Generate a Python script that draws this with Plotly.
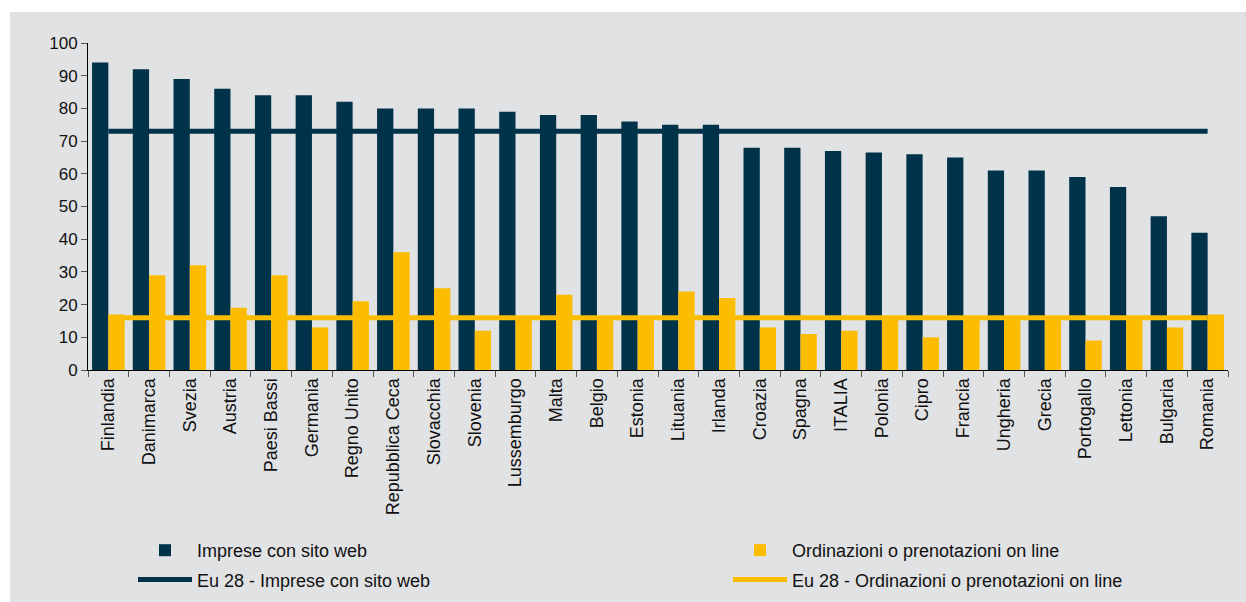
import plotly.graph_objects as go

paesi = ["Finlandia", "Danimarca", "Svezia", "Austria", "Paesi Bassi", "Germania",
         "Regno Unito", "Repubblica Ceca", "Slovacchia", "Slovenia", "Lussemburgo",
         "Malta", "Belgio", "Estonia", "Lituania", "Irlanda", "Croazia", "Spagna",
         "ITALIA", "Polonia", "Cipro", "Francia", "Ungheria", "Grecia", "Portogallo",
         "Lettonia", "Bulgaria", "Romania"]

imprese_sito_web = [94, 92, 89, 86, 84, 84, 82, 80, 80, 80, 79, 78, 78, 76, 75, 75,
                    68, 68, 67, 66.5, 66, 65, 61, 61, 59, 56, 47, 42]

ordinazioni_online = [17, 29, 32, 19, 29, 13, 21, 36, 25, 12, 16, 23, 16, 16, 24, 22,
                      13, 11, 12, 16, 10, 16, 16, 16, 9, 16, 13, 17]

eu28_sito_web = 73
eu28_ordinazioni = 16

y_ticks = [0, 10, 20, 30, 40, 50, 60, 70, 80, 90, 100]

DARK = "#003349"
YELLOW = "#FCBC00"
BG = "#E1E2E4"
FONT = "Liberation Sans, Arial, sans-serif"

fig = go.Figure()
fig.add_trace(go.Bar(x=paesi, y=imprese_sito_web, name="Imprese con sito web",
                     marker=dict(color=DARK, line=dict(width=0)),
                     legend="legend", legendgroup="a"))
fig.add_trace(go.Bar(x=paesi, y=ordinazioni_online, name="Ordinazioni o prenotazioni on line",
                     marker=dict(color=YELLOW, line=dict(width=0)),
                     legend="legend2", legendgroup="b"))
fig.add_trace(go.Scatter(x=paesi, y=[eu28_sito_web] * len(paesi), mode="lines",
                         name="Eu 28 - Imprese con sito web",
                         line=dict(color=DARK, width=5),
                         legend="legend", legendgroup="c"))
fig.add_trace(go.Scatter(x=paesi, y=[eu28_ordinazioni] * len(paesi), mode="lines",
                         name="Eu 28 - Ordinazioni o prenotazioni on line",
                         line=dict(color=YELLOW, width=5),
                         legend="legend2", legendgroup="d"))

L, R, T, B = 88, 18, 43, 232
W, H = 1246, 602
pw, ph = W - L - R, H - T - B
# gray panel (leaves a white strip at the top and left edge)
fig.add_shape(type="rect", xref="paper", yref="paper", layer="below",
              x0=(10 - L) / pw, x1=(W + 5 - L) / pw,
              y0=(H - B - (H + 5)) / ph, y1=(H - B - 12) / ph,
              fillcolor=BG, line=dict(width=0))

legend_common = dict(orientation="v", xanchor="left", yanchor="top",
                     y=(H - B - 532) / ph, itemwidth=54, tracegroupgap=3,
                     bgcolor="rgba(0,0,0,0)", borderwidth=0,
                     font=dict(family=FONT, size=18, color="#111111"))

fig.update_layout(
    width=W, height=H,
    margin=dict(l=L, r=R, t=T, b=B, autoexpand=False),
    paper_bgcolor="white",
    plot_bgcolor="rgba(0,0,0,0)",
    barmode="group", bargap=0.2, bargroupgap=0.0,
    font=dict(family=FONT, size=16, color="#111111"),
    showlegend=True,
    legend=dict(x=(133 - L) / pw, **legend_common),
    legend2=dict(x=(728 - L) / pw, **legend_common),
)
fig.update_xaxes(showline=True, linecolor="black", linewidth=1,
                 ticks="outside", tickson="boundaries", ticklen=6, tickcolor="#555555",
                 tickangle=-90, tickfont=dict(size=18), showgrid=False,
                 range=[-0.5, len(paesi) - 0.5])
fig.update_yaxes(range=[0, 100], tickvals=y_ticks, showline=True, linecolor="black",
                 linewidth=1, ticks="outside", ticklen=6, tickcolor="#555555",
                 showgrid=False, zeroline=False, tickfont=dict(size=17))

fig.write_html("out.html", config={"displayModeBar": False},
               post_script="document.body.style.margin='0';document.body.style.overflow='hidden';")
